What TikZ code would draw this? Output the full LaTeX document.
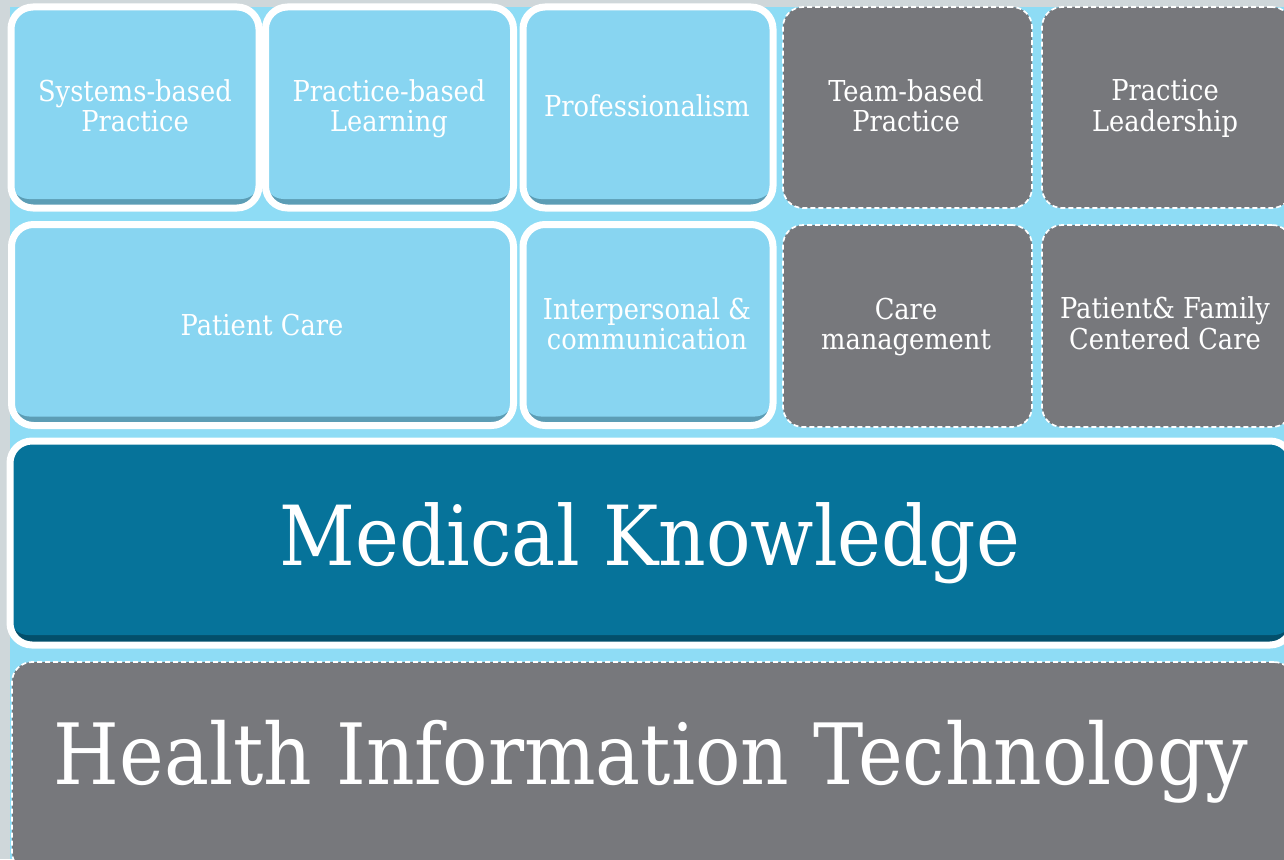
\documentclass[tikz,border=0pt]{standalone}
\usepackage{fontspec}
\setmainfont{DejaVu Serif}
\usepackage{graphicx}
\definecolor{bgblue}{HTML}{8EDCF5}
\definecolor{boxblue}{HTML}{88D5F1}
\definecolor{boxshade}{HTML}{5C9DB5}
\definecolor{mkblue}{HTML}{06739A}
\definecolor{mkshade}{HTML}{034F6B}
\definecolor{greybox}{HTML}{77787C}
\definecolor{edgegrey}{HTML}{CFD7DA}
\newcommand\tallt[1]{\scalebox{1}[1.12]{#1}}
\newcommand\twol[2]{\tallt{\begin{tabular}{@{}c@{}}#1\\#2\end{tabular}}}
\tikzset{
  bluebox/.style={rounded corners=22pt, fill=boxshade, draw=white, line width=7pt,
    inner sep=0pt,
    preaction={fill=boxshade!70!bgblue, opacity=0.6, transform canvas={yshift=-3pt}},
    path picture={\fill[boxblue, rounded corners=18pt] ([yshift=9pt]path picture bounding box.south west) rectangle (path picture bounding box.north east);}},
  mkbox/.style={rounded corners=22pt, fill=mkshade, draw=white, line width=7pt,
    inner sep=0pt,
    preaction={fill=boxshade, opacity=0.5, transform canvas={yshift=-3pt}},
    path picture={\fill[mkblue, rounded corners=18pt] ([yshift=10pt]path picture bounding box.south west) rectangle (path picture bounding box.north east);}},
  greyframe/.style={rounded corners=20pt, fill=greybox, draw=white, dash pattern=on 5pt off 3pt,
    line width=1.7pt, inner sep=0pt},
  label/.style={text=white, align=center, font=\fontsize{25.7}{26.8}\selectfont, inner sep=0pt}
}
\begin{document}
\begin{tikzpicture}[x=1pt,y=-1pt]
\useasboundingbox (0,0) rectangle (1284,859);
% background
\fill[bgblue] (0,0) rectangle (1284,859);
\fill[edgegrey] (0,0) rectangle (1284,7);
\fill[edgegrey] (0,0) rectangle (10,859);
% row 1 blue boxes
\node[bluebox, minimum width=248pt, minimum height=201pt] (sbp) at (135,107.5) {};
\node[bluebox, minimum width=248pt, minimum height=201pt] (pbl) at (389.5,107.5) {};
\node[bluebox, minimum width=250pt, minimum height=201pt] (prof) at (648,107.5) {};
% row 2 blue boxes
\node[bluebox, minimum width=502pt, minimum height=201pt] (pc) at (262.5,325) {};
\node[bluebox, minimum width=250pt, minimum height=201pt] (ipc) at (648,325) {};
% grey boxes
\node[greyframe, minimum width=249pt, minimum height=201pt] (tbp) at (907.5,107.5) {};
\node[greyframe, minimum width=250pt, minimum height=201pt] (pl) at (1167,107.5) {};
\node[greyframe, minimum width=249pt, minimum height=202pt] (cm) at (907.5,326) {};
\node[greyframe, minimum width=250pt, minimum height=202pt] (pfc) at (1167,326) {};
% medical knowledge
\node[mkbox, minimum width=1282pt, minimum height=204pt] (mk) at (651,543) {};
% HIT
\node[greyframe, minimum width=1282pt, minimum height=210pt] (hit) at (653,767) {};
% labels
\node[label] (t1) at (135,110) {\twol{Systems-based}{Practice}};
\node[label] (t2) at (389,110) {\twol{Practice-based}{Learning}};
\node[label] (t3) at (647,106) {\tallt{Professionalism}};
\node[label] (t4) at (906,110) {\twol{Team-based}{Practice}};
\node[label] (t5) at (1165,110) {\twol{Practice}{Leadership}};
\node[label] (t6) at (262,325) {\tallt{Patient Care}};
\node[label] (t7) at (647,328) {\twol{Interpersonal \&}{communication}};
\node[label] (t8) at (906,328) {\twol{Care}{management}};
\node[label] (t9) at (1165,328) {\twol{Patient\& Family}{Centered Care}};
\node[label, font=\fontsize{74}{80}\selectfont] (t10) at (650,543) {\tallt{Medical Knowledge}};
\node[label, font=\fontsize{75.5}{80}\selectfont] (t11) at (651,762) {\tallt{Health Information Technology}};
\end{tikzpicture}
\end{document}
